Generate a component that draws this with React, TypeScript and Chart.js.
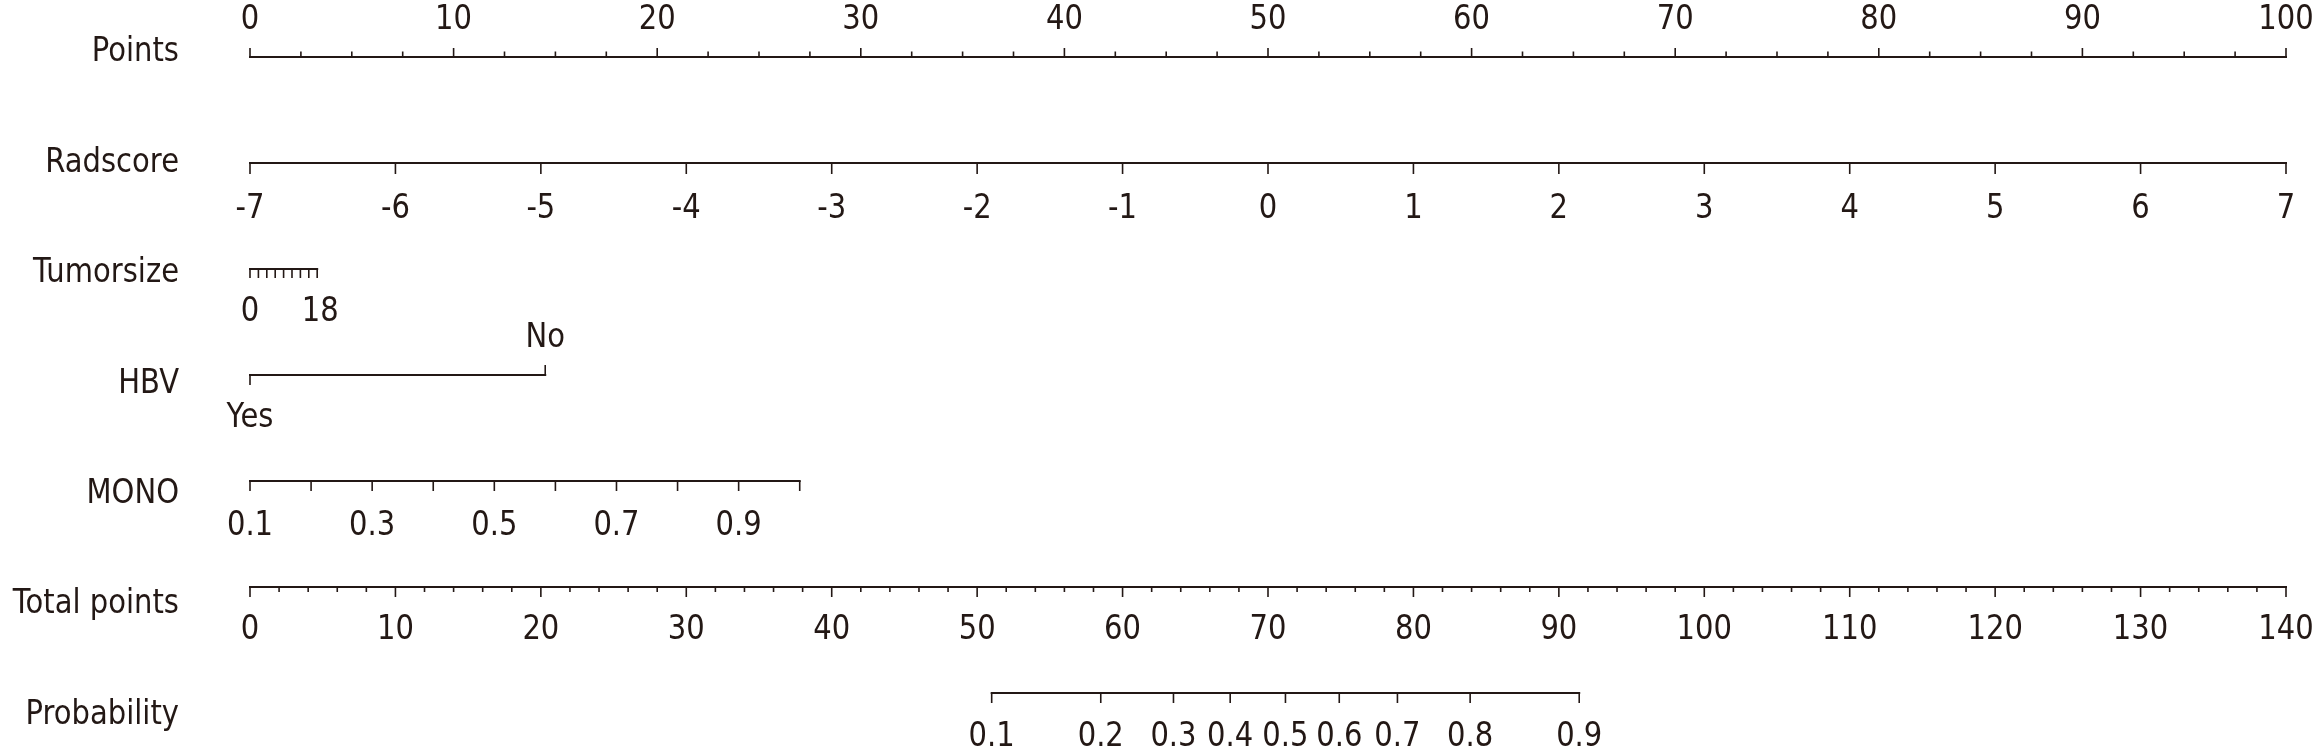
import React, { useEffect, useRef } from 'react';
import { Chart, registerables } from 'chart.js';

Chart.register(...registerables);

// ---- data ----
const rowTitles = ['Points', 'Radscore', 'Tumorsize', 'HBV', 'MONO', 'Total points', 'Probability'];

const pointsLabels = [0, 10, 20, 30, 40, 50, 60, 70, 80, 90, 100];
const pointsMinorStep = 2.5;

const radscoreTicks = [-7, -6, -5, -4, -3, -2, -1, 0, 1, 2, 3, 4, 5, 6, 7];
const radscoreMin = -7;
const radscoreMax = 7;
const radscoreMaxPoints = 100;

const tumorsizeTicks = [0, 2.25, 4.5, 6.75, 9, 11.25, 13.5, 15.75, 18];
const tumorsizeLabels = [0, 18];
const tumorsizeMaxPoints = 3.3;

const hbvLevels = ['Yes', 'No'];
const hbvPoints = [0, 14.5];

const monoTicks = [0.1, 0.2, 0.3, 0.4, 0.5, 0.6, 0.7, 0.8, 0.9, 1.0];
const monoLabels = [0.1, 0.3, 0.5, 0.7, 0.9];
const monoMaxPoints = 27.0;

const totalLabels = [0, 10, 20, 30, 40, 50, 60, 70, 80, 90, 100, 110, 120, 130, 140];
const totalMinorStep = 2;

const probValues = [0.1, 0.2, 0.3, 0.4, 0.5, 0.6, 0.7, 0.8, 0.9];
const probTotalPoints = [51.0, 58.5, 63.5, 67.4, 71.2, 74.9, 78.9, 83.9, 91.4];

// ---- style ----
const INK = '#231815';
const FONT = '33px "DejaVu Sans"';
const SX = 0.88;
const MAJOR = 10;
const MINOR = 5;
const LABEL_ABOVE = -28;
const LABEL_BELOW = 53;
const TITLE_X = 179;
const TITLE_OFFSETS = [4, 9, 13, 18, 22, 26, 31];

function drawText(ctx: CanvasRenderingContext2D, s: string, x: number, y: number, align: CanvasTextAlign) {
  ctx.save();
  ctx.translate(x, y);
  ctx.scale(SX, 1);
  ctx.textAlign = align;
  ctx.textBaseline = 'alphabetic';
  ctx.fillText(s, 0, 0);
  ctx.restore();
}

function hline(ctx: CanvasRenderingContext2D, x1: number, x2: number, y: number) {
  ctx.save();
  ctx.lineWidth = 2;
  ctx.beginPath();
  ctx.moveTo(x1 - 1, y);
  ctx.lineTo(x2 + 1, y);
  ctx.stroke();
  ctx.restore();
}

function tick(ctx: CanvasRenderingContext2D, x: number, y: number, len: number) {
  ctx.save();
  ctx.lineWidth = 1.6;
  ctx.beginPath();
  ctx.moveTo(x, y);
  ctx.lineTo(x, y + len);
  ctx.stroke();
  ctx.restore();
}

const fmt = (v: number) => String(Math.round(v * 100) / 100);

const nomogramPlugin = {
  id: 'nomogram',
  afterDraw(chart: any) {
    const ctx: CanvasRenderingContext2D = chart.ctx;
    const xs = chart.scales.x;
    const xt = chart.scales.xTotal;
    const ys = chart.scales.y;
    ctx.save();
    ctx.strokeStyle = INK;
    ctx.fillStyle = INK;
    ctx.font = FONT;

    // titles
    rowTitles.forEach((t, i) => {
      drawText(ctx, t, TITLE_X, ys.getPixelForValue(i) + TITLE_OFFSETS[i], 'right');
    });

    // Row 0: Points
    {
      const y = ys.getPixelForValue(0);
      const lo = pointsLabels[0];
      const hi = pointsLabels[pointsLabels.length - 1];
      hline(ctx, xs.getPixelForValue(lo), xs.getPixelForValue(hi), y);
      for (let v = lo; v <= hi + 1e-9; v += pointsMinorStep) {
        const major = pointsLabels.some((l) => Math.abs(l - v) < 1e-9);
        tick(ctx, xs.getPixelForValue(v), y, major ? -MAJOR + 1 : -MINOR - 0.5);
      }
      pointsLabels.forEach((l) => drawText(ctx, String(l), xs.getPixelForValue(l), y + LABEL_ABOVE, 'center'));
    }

    // Row 1: Radscore
    {
      const y = ys.getPixelForValue(1);
      const toPts = (v: number) => ((v - radscoreMin) / (radscoreMax - radscoreMin)) * radscoreMaxPoints;
      hline(ctx, xs.getPixelForValue(toPts(radscoreMin)), xs.getPixelForValue(toPts(radscoreMax)), y);
      radscoreTicks.forEach((v) => {
        const px = xs.getPixelForValue(toPts(v));
        tick(ctx, px, y, MAJOR + 1);
        drawText(ctx, String(v), px, y + LABEL_BELOW + 2, 'center');
      });
    }

    // Row 2: Tumorsize
    {
      const y = ys.getPixelForValue(2);
      const tmax = tumorsizeTicks[tumorsizeTicks.length - 1];
      const toPts = (v: number) => (v / tmax) * tumorsizeMaxPoints;
      hline(ctx, xs.getPixelForValue(toPts(tumorsizeTicks[0])), xs.getPixelForValue(toPts(tmax)), y);
      tumorsizeTicks.forEach((v) => tick(ctx, xs.getPixelForValue(toPts(v)), y, MAJOR - 1));
      tumorsizeLabels.forEach((v) =>
        drawText(ctx, String(v), xs.getPixelForValue(toPts(v)) + (v === 0 ? 0 : 3), y + LABEL_BELOW - 1, 'center')
      );
    }

    // Row 3: HBV
    {
      const y = ys.getPixelForValue(3);
      hline(ctx, xs.getPixelForValue(Math.min(...hbvPoints)), xs.getPixelForValue(Math.max(...hbvPoints)), y);
      hbvLevels.forEach((lvl, i) => {
        const px = xs.getPixelForValue(hbvPoints[i]);
        if (i % 2 === 0) {
          tick(ctx, px, y, MAJOR);
          drawText(ctx, lvl, px, y + LABEL_BELOW - 1, 'center');
        } else {
          tick(ctx, px, y, -MAJOR);
          drawText(ctx, lvl, px, y + LABEL_ABOVE, 'center');
        }
      });
    }

    // Row 4: MONO
    {
      const y = ys.getPixelForValue(4);
      const m0 = monoTicks[0];
      const m1 = monoTicks[monoTicks.length - 1];
      const toPts = (v: number) => ((v - m0) / (m1 - m0)) * monoMaxPoints;
      hline(ctx, xs.getPixelForValue(toPts(m0)), xs.getPixelForValue(toPts(m1)), y);
      monoTicks.forEach((v) => tick(ctx, xs.getPixelForValue(toPts(v)), y, MAJOR));
      monoLabels.forEach((v) => drawText(ctx, fmt(v), xs.getPixelForValue(toPts(v)), y + LABEL_BELOW + 1, 'center'));
    }

    // Row 5: Total points
    {
      const y = ys.getPixelForValue(5);
      const lo = totalLabels[0];
      const hi = totalLabels[totalLabels.length - 1];
      hline(ctx, xt.getPixelForValue(lo), xt.getPixelForValue(hi), y);
      for (let v = lo; v <= hi + 1e-9; v += totalMinorStep) {
        const major = totalLabels.some((l) => Math.abs(l - v) < 1e-9);
        tick(ctx, xt.getPixelForValue(v), y, major ? MAJOR : MINOR);
      }
      totalLabels.forEach((l) => drawText(ctx, String(l), xt.getPixelForValue(l), y + LABEL_BELOW - 1, 'center'));
    }

    // Row 6: Probability
    {
      const y = ys.getPixelForValue(6);
      hline(ctx, xt.getPixelForValue(probTotalPoints[0]), xt.getPixelForValue(probTotalPoints[probTotalPoints.length - 1]), y);
      probValues.forEach((p, i) => {
        const px = xt.getPixelForValue(probTotalPoints[i]);
        tick(ctx, px, y, MAJOR);
        drawText(ctx, fmt(p), px, y + LABEL_BELOW, 'center');
      });
    }

    ctx.restore();
  },
};

export default function App() {
  const ref = useRef<HTMLCanvasElement | null>(null);

  useEffect(() => {
    if (!ref.current) return;
    const chart = new Chart(ref.current, {
      type: 'scatter',
      data: { datasets: [] },
      options: {
        animation: false,
        responsive: false,
        maintainAspectRatio: false,
        events: [],
        layout: { padding: { left: 250, right: 28, top: 57, bottom: 61 } },
        plugins: { legend: { display: false }, tooltip: { enabled: false }, title: { display: false } },
        scales: {
          x: { type: 'linear', min: 0, max: 100, display: false },
          xTotal: { type: 'linear', axis: 'x', min: 0, max: 140, display: false },
          y: { type: 'linear', min: 0, max: 6, reverse: true, display: false },
        },
      },
      plugins: [nomogramPlugin],
    });
    return () => chart.destroy();
  }, []);

  return (
    <div style={{ position: 'fixed', left: 0, top: 0, width: 2314, height: 754, background: '#fff' }}>
      <canvas ref={ref} width={2314} height={754} style={{ display: 'block', width: 2314, height: 754 }} />
    </div>
  );
}
